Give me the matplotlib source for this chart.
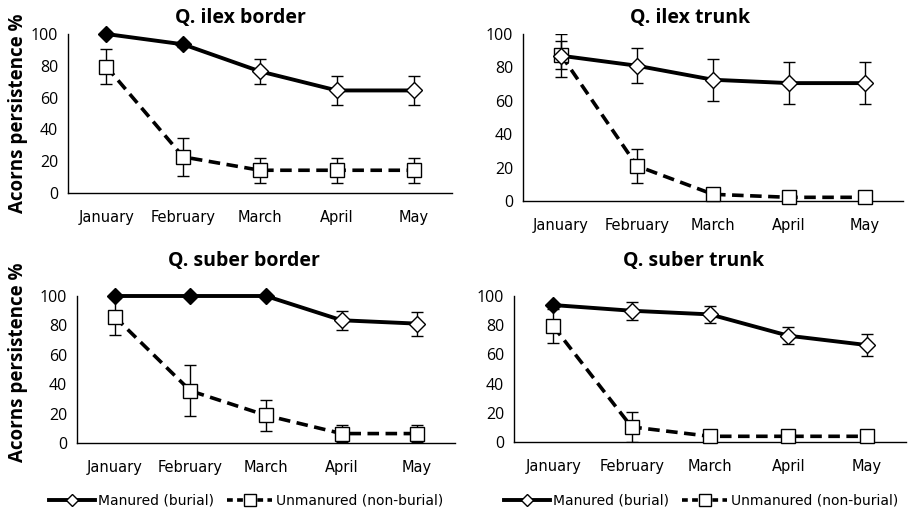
import matplotlib
matplotlib.use("Agg")
import matplotlib.pyplot as plt
from matplotlib.lines import Line2D

plt.rcParams['font.family'] = ['Open Sans', 'DejaVu Sans']
narrow = ['Liberation Sans Narrow', 'DejaVu Sans']

months = ["January", "February", "March", "April", "May"]
titles = ["Q. ilex border", "Q. ilex trunk", "Q. suber border", "Q. suber trunk"]

# manured (burial)
man_ilex_border = [100, 93.5, 76.5, 64.5, 64.5]
man_ilex_border_err = [0, 1.5, 7.7, 9.2, 9.2]
man_ilex_border_fill = [True, True, False, False, False]
man_ilex_trunk = [87, 81, 72.6, 70.6, 70.6]
man_ilex_trunk_err = [13, 10.5, 12.7, 12.5, 12.5]
man_ilex_trunk_fill = [False, False, False, False, False]
man_suber_border = [100, 100, 100, 83.5, 81.2]
man_suber_border_err = [0, 0, 0, 6.3, 8.2]
man_suber_border_fill = [True, True, True, False, False]
man_suber_trunk = [93.8, 89.9, 87.4, 72.8, 66.4]
man_suber_trunk_err = [0, 6, 5.7, 6, 7.7]
man_suber_trunk_fill = [True, False, False, False, False]

# unmanured (non-burial)
unm_ilex_border = [79.5, 22.7, 14.3, 14.3, 14.3]
unm_ilex_border_err = [10.8, 11.8, 7.9, 7.9, 7.9]
unm_ilex_trunk = [87.5, 21, 4, 2.2, 2.2]
unm_ilex_trunk_err = [8.5, 10.2, 0, 0, 0]
unm_suber_border = [85.8, 35.5, 18.8, 6.4, 6.4]
unm_suber_border_err = [12.6, 17.4, 10.7, 5.7, 5.7]
unm_suber_trunk = [79.4, 10.3, 3.9, 3.9, 3.9]
unm_suber_trunk_err = [11.9, 10.3, 0, 0, 0]

panels = [
    (man_ilex_border, man_ilex_border_err, man_ilex_border_fill, unm_ilex_border, unm_ilex_border_err),
    (man_ilex_trunk, man_ilex_trunk_err, man_ilex_trunk_fill, unm_ilex_trunk, unm_ilex_trunk_err),
    (man_suber_border, man_suber_border_err, man_suber_border_fill, unm_suber_border, unm_suber_border_err),
    (man_suber_trunk, man_suber_trunk_err, man_suber_trunk_fill, unm_suber_trunk, unm_suber_trunk_err),
]

rects = [
    [0.0748, 0.6238, 0.4224, 0.3099],
    [0.5754, 0.6082, 0.4180, 0.3255],
    [0.0847, 0.1365, 0.4158, 0.2865],
    [0.5655, 0.1384, 0.4312, 0.2846],
]
title_pos = [(240, 18), (690, 18), (244, 261), (694, 261)]
dash = (0, (3.2, 1.8))

fig = plt.figure(figsize=(9.09, 5.13), dpi=100)

for i, (man, man_err, man_fill, unm, unm_err) in enumerate(panels):
    ax = fig.add_axes(rects[i])
    x = list(range(len(months)))
    # error bars
    ax.errorbar(x, unm, yerr=unm_err, fmt='none', ecolor='black', elinewidth=1,
                capsize=4, capthick=1, zorder=2)
    ax.errorbar(x, man, yerr=man_err, fmt='none', ecolor='black', elinewidth=1,
                capsize=4, capthick=1, zorder=2)
    # lines
    ax.plot(x, unm, color='black', lw=2.6, ls=dash, zorder=3, clip_on=False)
    ax.plot(x, man, color='black', lw=2.8, zorder=3, clip_on=False)
    # markers
    ax.plot(x, unm, ls='none', marker='s', ms=9.5, mfc='white', mec='black', mew=1,
            zorder=4, clip_on=False)
    for xi, yi, f in zip(x, man, man_fill):
        ax.plot(xi, yi, ls='none', marker='D', ms=8.5, mfc='black' if f else 'white',
                mec='black', mew=1, zorder=5, clip_on=False)

    ax.set_xlim(-0.5, len(months) - 0.5)
    ax.set_ylim(0, 100)
    ax.set_yticks([0, 20, 40, 60, 80, 100])
    ax.set_yticks([0], minor=True)
    ax.set_xticks(x)
    ax.set_xticklabels(months, family=narrow, fontsize=10.5)
    ax.tick_params(axis='x', length=0, pad=12)
    ax.tick_params(axis='y', which='major', length=0, pad=7, labelsize=11.5)
    ax.tick_params(axis='y', which='minor', length=5, width=1)
    for s in ['top', 'right']:
        ax.spines[s].set_visible(False)
    for s in ['left', 'bottom']:
        ax.spines[s].set_linewidth(1)
        ax.spines[s].set_color('black')
    tx, ty = title_pos[i]
    fig.text(tx / 909, 1 - ty / 513, titles[i], ha='center', va='center',
             fontsize=14, fontweight='bold')

fig.text(18 / 909, 1 - 113 / 513, "Acorns persistence %", rotation=90, ha='center',
         va='center', fontsize=13.5, fontweight='bold')
fig.text(18 / 909, 1 - 362 / 513, "Acorns persistence %", rotation=90, ha='center',
         va='center', fontsize=13.5, fontweight='bold')

handles = [
    Line2D([], [], color='black', lw=2.8, marker='D', ms=6, mfc='white', mec='black', mew=1),
    Line2D([], [], color='black', lw=2.6, ls=(0, (1.6, 1.2)), marker='s', ms=8, mfc='white',
           mec='black', mew=1),
]
labels = ["Manured (burial)", "Unmanured (non-burial)"]
for cx in [246, 701]:
    fig.legend(handles, labels, loc='center', bbox_to_anchor=(cx / 909, 1 - 501 / 513),
               ncol=2, frameon=False, prop={'family': narrow, 'size': 10},
               handlelength=3.3, handletextpad=0.25, columnspacing=0.9)

fig.savefig("out.png", dpi=100)
